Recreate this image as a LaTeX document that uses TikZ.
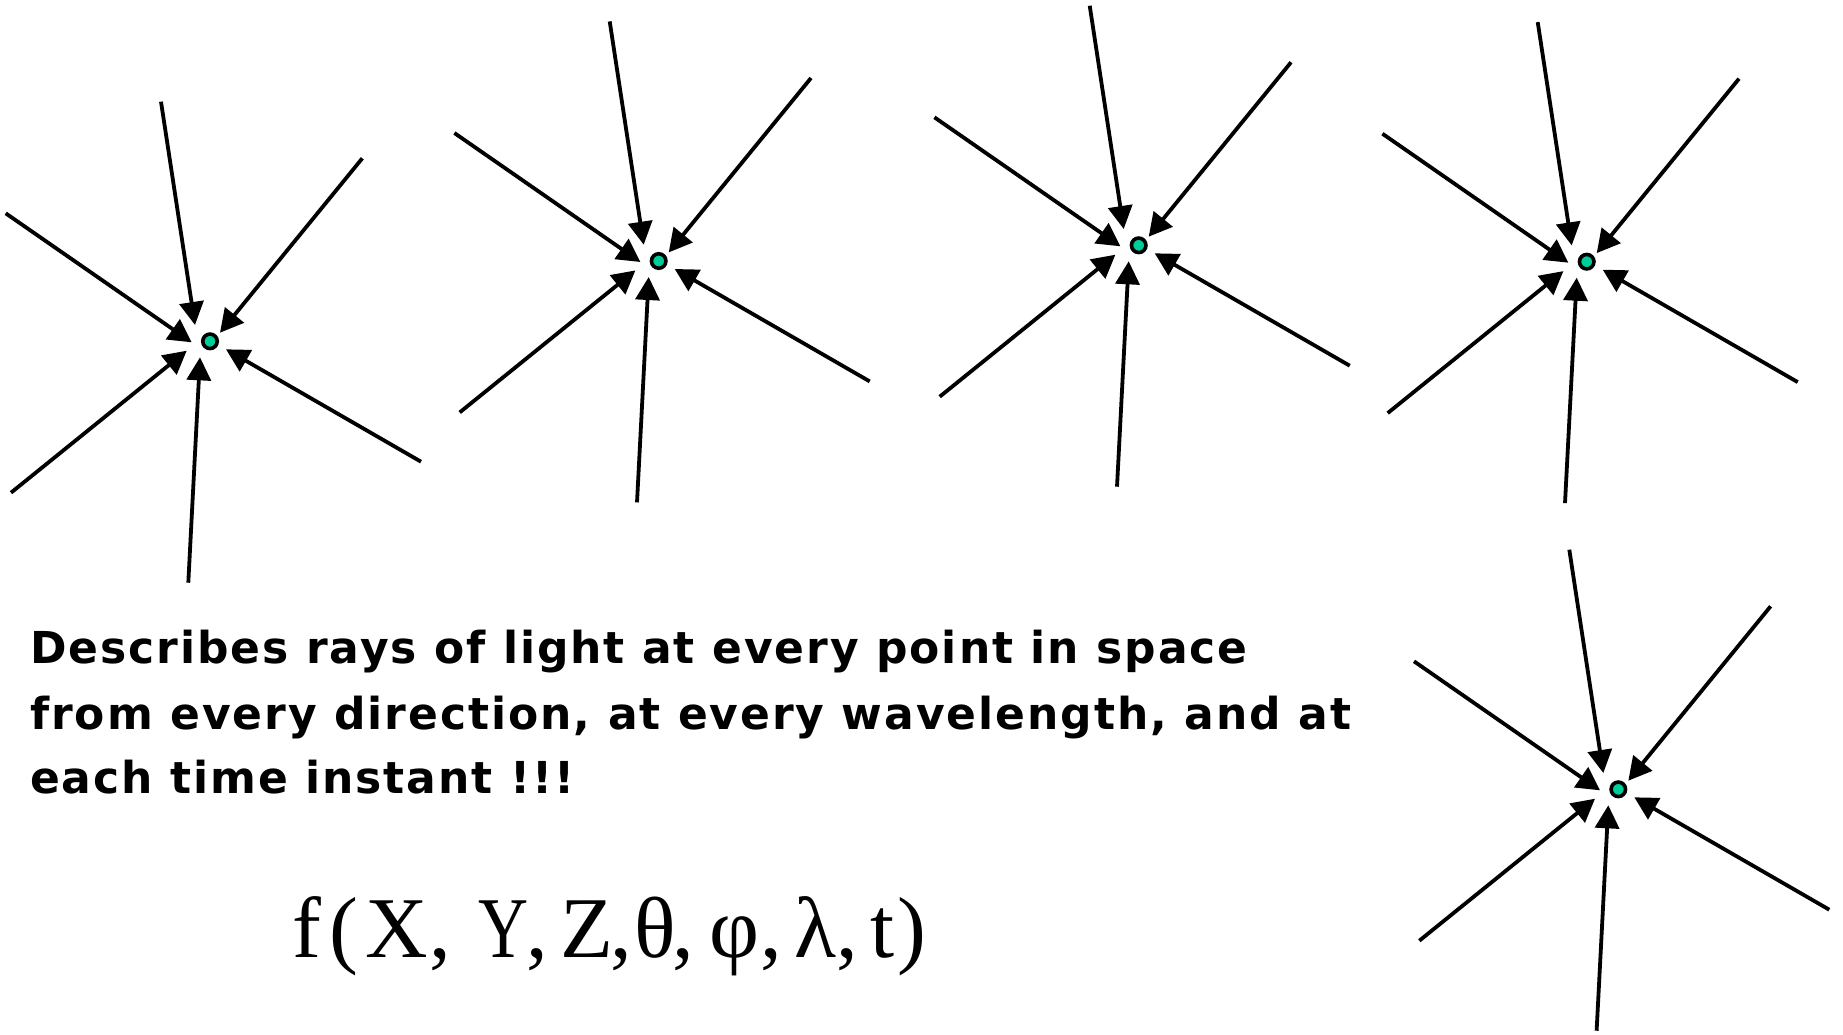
\documentclass[tikz,border=0pt]{standalone}
\usepackage{fontspec}
\usepackage{graphicx}
\usetikzlibrary{arrows.meta}
\newfontfamily\bodyfont{DejaVu Sans}[BoldFont={DejaVu Sans Bold},LetterSpace=4.5]
\newfontfamily\formulafont{Liberation Serif}
\definecolor{dotgreen}{RGB}{0,204,153}
\newcommand\gl[2]{\makebox[#1pt][l]{#2}}
\tikzset{
  lpdot/.style={circle,draw=black,line width=3.6pt,fill=dotgreen,minimum size=14.5pt,inner sep=0pt},
  lpray/.style={line width=3.8pt,-{Triangle[length=23pt,width=24pt]}},
  bodytext/.style={anchor=base west,inner sep=0pt,font=\bodyfont\bfseries\fontsize{44}{50}\selectfont},
  formulatext/.style={anchor=base west,inner sep=0pt,font=\formulafont\fontsize{86.6}{100}\selectfont}
}
\newcommand\lightpoint[3]{%
  \begin{scope}[shift={(#2,#3)}]
    \coordinate (#1-a0) at (-49,-239.6);   \coordinate (#1-a1) at (-15,-16.3);
    \coordinate (#1-b0) at (152.3,-183);   \coordinate (#1-b1) at (10,-8.6);
    \coordinate (#1-c0) at (-204.3,-128);  \coordinate (#1-c1) at (-18.3,1);
    \coordinate (#1-d0) at (-199,151.4);   \coordinate (#1-d1) at (-23.3,9.4);
    \coordinate (#1-e0) at (-21.7,241.4);  \coordinate (#1-e1) at (-10,16);
    \coordinate (#1-f0) at (211,120.4);    \coordinate (#1-f1) at (16,8);
    \draw[lpray] (#1-a0) -- (#1-a1);
    \draw[lpray] (#1-b0) -- (#1-b1);
    \draw[lpray] (#1-c0) -- (#1-c1);
    \draw[lpray] (#1-d0) -- (#1-d1);
    \draw[lpray] (#1-e0) -- (#1-e1);
    \draw[lpray] (#1-f0) -- (#1-f1);
    \node[lpdot] (#1) at (0,0) {};
  \end{scope}}
\begin{document}
\begin{tikzpicture}[x=1pt,y=-1pt]
  \useasboundingbox (0,0) rectangle (1843,1034);
  \lightpoint{p1}{210}{341.3}
  \lightpoint{p2}{658.7}{261}
  \lightpoint{p3}{1138.7}{245.3}
  \lightpoint{p4}{1586.7}{261.7}
  \lightpoint{p5}{1618.3}{789.3}
  \node[bodytext] (l1) at (30,663) {Describes rays of light at every point in space};
  \node[bodytext] (l2) at (30,729) {from every direction, at every wavelength, and at};
  \node[bodytext] (l3) at (30,793) {each time instant !!!};
  \node[formulatext] (fx) at (292.2,957) {\gl{37.3}{f}\gl{36.2}{(}\gl{63.2}{X}\gl{49.4}{,}\gl{48.2}{\scalebox{0.8}[1]{Y}}\gl{33.8}{,}\gl{49.6}{Z}\gl{24.2}{,}\gl{38.1}{θ}\gl{37.1}{,}\gl{51.1}{φ}\gl{34.4}{,}\gl{42}{λ}\gl{33.2}{,}\gl{27.2}{t})};
\end{tikzpicture}
\end{document}
